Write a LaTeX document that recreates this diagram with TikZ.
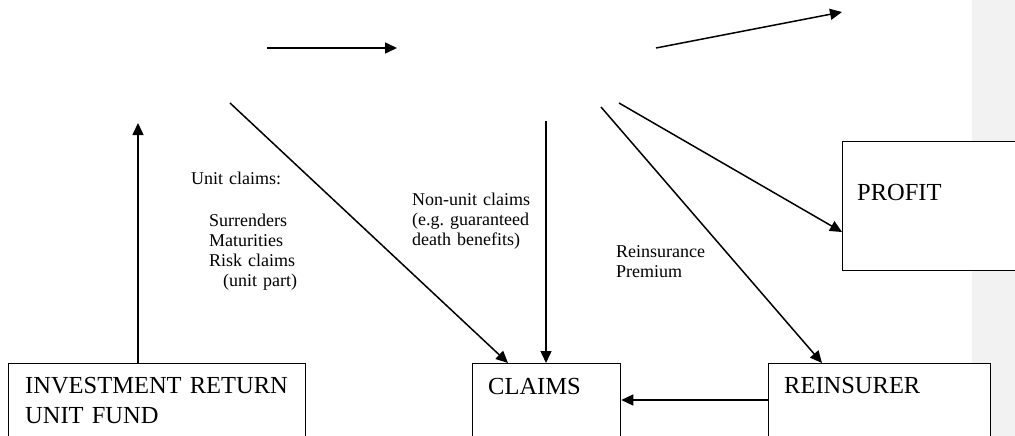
\documentclass[tikz,border=0pt]{standalone}
\usepackage{fontspec}
\setmainfont{Liberation Serif}
\usetikzlibrary{arrows.meta}
\definecolor{bandgray}{RGB}{242,242,242}
\begin{document}
\begin{tikzpicture}[x=1pt,y=-1pt,
  line/.style={line width=1.5pt},
  arr/.style={line, -{Triangle[length=12pt,width=11pt]}},
  box/.style={draw, line width=1.3pt, fill=white, rectangle, anchor=north west, inner sep=0pt},
  boxtext/.style={anchor=base west, inner sep=0pt, font=\fontsize{24.5}{30}\selectfont, align=left, text width=300pt},
  lbl/.style={anchor=base west, inner sep=0pt, font=\fontsize{18}{20}\selectfont\frenchspacing, align=left, text width=200pt}]
\path[use as bounding box] (0,0) rectangle (1015,436);
\clip (0,0) rectangle (1015,436);
\fill[bandgray] (972,0) rectangle (1015,436);

% boxes
\node[box, minimum width=297pt, minimum height=100pt] (inv) at (8,363) {};
\node[box, minimum width=148pt, minimum height=100pt] (claims) at (472,363) {};
\node[box, minimum width=222pt, minimum height=100pt] (reins) at (768,363) {};
\node[box, minimum width=200pt, minimum height=129pt] (profit) at (842,141) {};

% box texts
\node[boxtext] (invt) at (25,393) {INVESTMENT RETURN\\UNIT FUND};
\node[boxtext] (claimst) at (488,394) {CLAIMS};
\node[boxtext] (reinst) at (784,393) {REINSURER};
\node[boxtext] (profitt) at (857,200) {PROFIT};

% free ends
\coordinate (upend) at (138,123);
\coordinate (h1s) at (267,48);
\coordinate (h1e) at (397,48);
\coordinate (d1s) at (230,103);
\coordinate (h2s) at (656,48);
\coordinate (h2e) at (842,12);
\coordinate (v1s) at (546,121);
\coordinate (d2s) at (601,107);
\coordinate (d3s) at (619,103);

% connectors
\draw[arr] (upend |- inv.north) -- (upend);
\draw[arr] (h1s) -- (h1e);
\draw[arr] (d1s) -- ([xshift=36pt]claims.north west);
\draw[arr] (h2s) -- (h2e);
\draw[arr] (v1s) -- (v1s |- claims.north);
\draw[arr] (d2s) -- ([xshift=54pt]reins.north west);
\draw[arr] (d3s) -- ([yshift=-91pt]profit.north west);
\draw[arr] ([yshift=-37pt]reins.north west) -- ([yshift=-37pt]claims.north east);

% labels
\node[lbl] (uc) at (191,184) {Unit claims:};
\node[lbl] (ucl) at (209,226) {Surrenders\\Maturities\\Risk claims\\\hspace*{14pt}(unit part)};
\node[lbl] (nuc) at (412,205) {Non-unit claims\\(e.g. guaranteed\\death benefits)};
\node[lbl] (rp) at (616,257) {Reinsurance\\Premium};
\end{tikzpicture}
\end{document}
